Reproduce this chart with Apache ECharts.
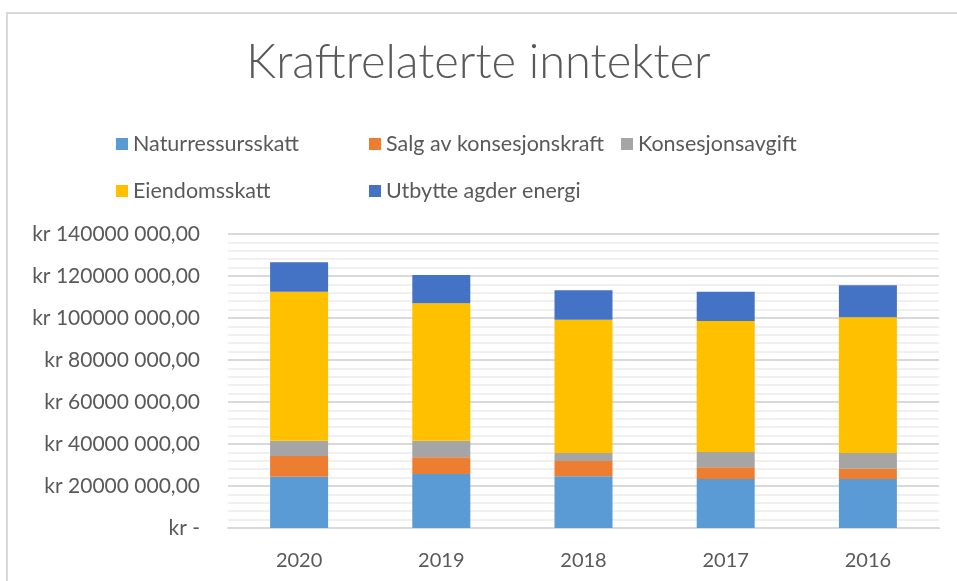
<!DOCTYPE html>
<html>
<head>
<meta charset="utf-8">
<script src="https://cdn.jsdelivr.net/npm/echarts@6/dist/echarts.min.js"></script>
<style>
  html, body { margin: 0; padding: 0; background: #fff; }
  .frame {
    position: absolute; left: 6px; top: 12px; width: 980px; height: 600px;
    border: 2px solid #d9d9d9; box-sizing: border-box;
  }
  #chart { position: absolute; left: 0; top: 0; width: 957px; height: 581px; }
</style>
</head>
<body>
<div class="frame"></div>
<div id="chart"></div>
<script>
const years = ['2020', '2019', '2018', '2017', '2016']
const seriesNames = ['Naturressursskatt', 'Salg av konsesjonskraft', 'Konsesjonsavgift', 'Eiendomsskatt', 'Utbytte agder energi']

// values in kroner
const naturressursskatt = [24400000, 25700000, 24600000, 23300000, 23300000]
const salgKonsesjonskraft = [9900000, 8000000, 7300000, 5600000, 4900000]
const konsesjonsavgift = [7300000, 7900000, 3800000, 7300000, 7500000]
const eiendomsskatt = [70900000, 65400000, 63500000, 62400000, 64600000]
const utbytte = [14000000, 13500000, 14000000, 13900000, 15300000]

const COLORS = ['#5b9bd5', '#ed7d31', '#a5a5a5', '#ffc000', '#4472c4']
const FONT = 'Lato, "Open Sans", sans-serif'
const TXT = '#595959'

function krFormat(v) {
  if (v === 0) return 'kr -'
  const thousands = Math.floor(v / 1000)
  const rest = String(v % 1000).padStart(3, '0')
  return 'kr ' + thousands + ' ' + rest + ',00'
}

const allData = [naturressursskatt, salgKonsesjonskraft, konsesjonsavgift, eiendomsskatt, utbytte]

// legend slots: [left, top]
const legendPos = [[111, 128], [364, 128], [616, 128], [111, 175], [364, 175]]

const chart = echarts.init(document.getElementById('chart'), null, { renderer: 'canvas' })
chart.setOption({
  backgroundColor: 'transparent',
  animation: false,
  textStyle: { fontFamily: FONT, color: TXT },
  title: {
    text: 'Kraftrelaterte inntekter',
    left: 'center',
    top: 34,
    textStyle: { fontFamily: FONT, fontWeight: 300, fontSize: 47, color: TXT },
  },
  legend: seriesNames.map((name, i) => ({
    data: [name],
    left: legendPos[i][0],
    top: legendPos[i][1],
    icon: 'rect',
    itemWidth: 12,
    itemHeight: 12,
    itemGap: 0,
    textStyle: { fontFamily: FONT, fontSize: 21.5, color: TXT },
  })),
  grid: { left: 228, right: 18, top: 234, bottom: 53, containLabel: false },
  xAxis: {
    type: 'category',
    data: years,
    axisLine: { lineStyle: { color: '#d9d9d9', width: 2 } },
    axisTick: { show: false },
    axisLabel: { color: TXT, fontSize: 20, fontFamily: FONT, margin: 23 },
  },
  yAxis: {
    type: 'value',
    min: 0,
    max: 140000000,
    interval: 20000000,
    axisLine: { show: false },
    axisTick: { show: false },
    axisLabel: { color: TXT, fontSize: 21, fontFamily: FONT, margin: 28, formatter: krFormat },
    splitLine: { lineStyle: { color: '#d9d9d9', width: 2 } },
    minorTick: { show: false, splitNumber: 5 },
    minorSplitLine: { show: true, lineStyle: { color: '#f0f0f0', width: 2 } },
  },
  series: seriesNames.map((name, i) => ({
    name,
    type: 'bar',
    stack: 'total',
    barWidth: 58,
    data: allData[i],
    itemStyle: { color: COLORS[i] },
  })),
})
</script>
</body>
</html>
